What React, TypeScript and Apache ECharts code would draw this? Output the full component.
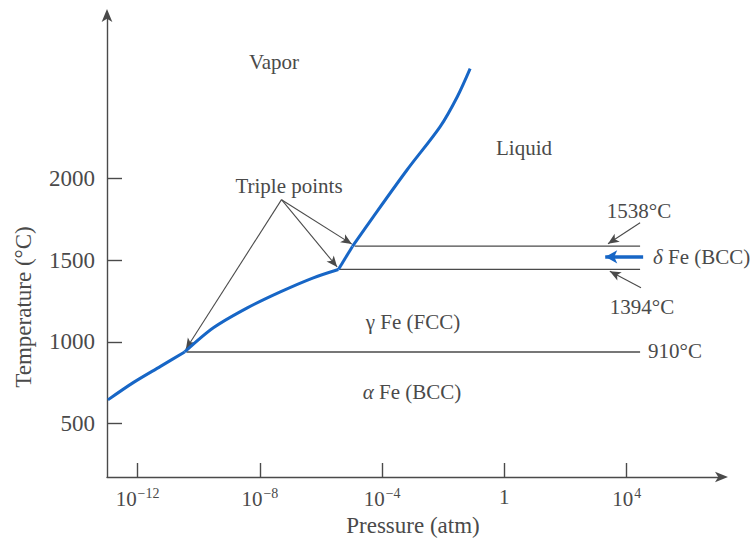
import React, { useEffect, useRef } from 'react';
import * as echarts from 'echarts';

// x = log10(pressure in atm), y = temperature in °C
const pressureTickExponents = [-12, -8, -4, 0, 4];
const temperatureTicks = [500, 1000, 1500, 2000];

const vaporAlphaLogP = [-12.97, -12.13, -11.25, -10.46];
const vaporAlphaT = [645, 752, 850, 938];
const vaporGammaLogP = [-10.46, -9.52, -8.41, -7.33, -6.25, -5.43];
const vaporGammaT = [938, 1086, 1208, 1306, 1392, 1443];
const vaporDeltaLogP = [-5.43, -4.97];
const vaporDeltaT = [1443, 1584];
const vaporLiquidLogP = [-4.97, -4.29, -3.18, -2.1, -1.54, -1.12];
const vaporLiquidT = [1584, 1765, 2053, 2317, 2500, 2672];

const transitionLabels = ['910°C', '1394°C', '1538°C'];
const transitionT = [938, 1443, 1586];
const transitionStartLogP = [-10.4, -5.4, -4.9];
const transitionEndLogP = [4.44, 4.44, 4.44];

const triplePointerFrom = [-7.29, 1870];
const triplePointerTo = [
  [-10.42, 955],
  [-5.47, 1458],
  [-4.99, 1598],
];
const meltPointerFrom = [4.44, 1729];
const meltPointerTo = [3.39, 1600];
const gammaDeltaPointerFrom = [4.47, 1331];
const gammaDeltaPointerTo = [3.45, 1432];
const deltaPointerFrom = [4.54, 1520];
const deltaPointerTo = [3.3, 1520];

const FONT = '"Liberation Serif", "DejaVu Serif", serif';
const TEXT = '#4a4a4a';
const LINE = '#4a4a4a';
const BLUE = '#1766c6';

const zip = (xs: number[], ys: number[]) => xs.map((x, i) => [x, ys[i]]);

export default function App() {
  const ref = useRef<HTMLDivElement>(null);
  useEffect(() => {
    if (!ref.current) return;
    const chart = echarts.init(ref.current, undefined, { renderer: 'svg' });

    const curve = (name: string, xs: number[], ys: number[]) => ({
      name,
      type: 'line',
      data: zip(xs, ys),
      smooth: 0.3,
      showSymbol: false,
      silent: true,
      lineStyle: { color: BLUE, width: 3 },
      z: 5,
    });

    const transitionSeries = transitionLabels.map((lab, i) => ({
      name: lab,
      type: 'line',
      data: [
        [transitionStartLogP[i], transitionT[i]],
        [transitionEndLogP[i], transitionT[i]],
      ],
      showSymbol: false,
      silent: true,
      lineStyle: { color: LINE, width: 1.3 },
      z: 3,
    }));

    const arrow = (from: number[], to: number[]) => [{ coord: from }, { coord: to }];

    const annotationSeries = {
      name: 'annotations',
      type: 'line',
      data: [],
      silent: true,
      markLine: {
        silent: true,
        animation: false,
        symbol: ['none', 'arrow'],
        symbolSize: [7, 11],
        label: { show: false },
        emphasis: { disabled: true },
        lineStyle: { color: LINE, width: 1.1, type: 'solid' },
        data: [
          ...triplePointerTo.map((t) => arrow(triplePointerFrom, t)),
          arrow(meltPointerFrom, meltPointerTo),
          arrow(gammaDeltaPointerFrom, gammaDeltaPointerTo),
          [
            { coord: deltaPointerFrom, lineStyle: { color: BLUE, width: 3.5, type: 'solid' }, symbolSize: [10, 12] },
            { coord: deltaPointerTo, symbolSize: [10, 12] },
          ],
        ],
      },
    };

    const txt = (text: string, x: number, y: number, align = 'center', size = 21, rich?: any, rotation = 0) => ({
      type: 'text',
      x,
      y,
      rotation,
      silent: true,
      style: {
        text,
        x: 0,
        y: 0,
        align,
        verticalAlign: 'middle',
        fontFamily: 'Liberation Serif',
        fontSize: size,
        fill: TEXT,
        rich,
      },
    });
    const greekRich = {
      i: { fontFamily: 'Liberation Serif', fontSize: 21, fontStyle: 'italic', fill: TEXT },
      n: { fontFamily: 'Liberation Serif', fontSize: 21, fill: TEXT },
    };

    chart.setOption({
      animation: false,
      grid: { left: 107, right: 33, top: 15, bottom: 63 },
      xAxis: {
        type: 'value',
        min: -13,
        max: 7.12,
        splitLine: { show: false },
        axisLine: {
          show: true,
          onZero: false,
          symbol: ['none', 'arrow'],
          symbolSize: [8, 13],
          symbolOffset: [0, 6],
          lineStyle: { color: LINE, width: 1.4 },
        },
        axisTick: {
          show: true,
          inside: true,
          length: 14,
          customValues: pressureTickExponents,
          lineStyle: { color: LINE, width: 1.4 },
        },
        axisLabel: {
          customValues: pressureTickExponents,
          margin: 9,
          formatter: (v: number) =>
            v === 0 ? '{b|1}' : `{b|10}{s|${v < 0 ? '−' : ''}${Math.abs(v)}}`,
          rich: {
            b: { fontFamily: FONT, fontSize: 21, color: TEXT },
            s: { fontFamily: FONT, fontSize: 14, color: TEXT, padding: [0, 0, 12, 1] },
          },
        },
      },
      yAxis: {
        type: 'value',
        min: 173,
        max: 3000,
        splitLine: { show: false },
        axisLine: {
          show: true,
          onZero: false,
          symbol: ['none', 'arrow'],
          symbolSize: [8, 13],
          symbolOffset: [0, 6],
          lineStyle: { color: LINE, width: 1.4 },
        },
        axisTick: {
          show: true,
          inside: true,
          length: 15,
          customValues: temperatureTicks,
          lineStyle: { color: LINE, width: 1.4 },
        },
        axisLabel: {
          customValues: temperatureTicks,
          margin: 12,
          fontFamily: FONT,
          fontSize: 23,
          color: TEXT,
          formatter: (v: number) => String(v),
        },
      },
      series: [
        curve('vapor-alpha', vaporAlphaLogP, vaporAlphaT),
        curve('vapor-gamma', vaporGammaLogP, vaporGammaT),
        curve('vapor-delta', vaporDeltaLogP, vaporDeltaT),
        curve('vapor-liquid', vaporLiquidLogP, vaporLiquidT),
        ...transitionSeries,
        annotationSeries,
      ],
      graphic: [
        txt('Vapor', 274, 62),
        txt('Liquid', 524, 148),
        txt('Triple points', 289, 186),
        txt('1538°C', 639, 211),
        txt('{i|δ}{n| Fe (BCC)}', 653, 257, 'left', 21, greekRich),
        txt('1394°C', 642, 307),
        txt('γ Fe (FCC)', 413, 322),
        txt('910°C', 648, 351, 'left'),
        txt('{i|α}{n| Fe (BCC)}', 412, 392, 'center', 21, greekRich),
        txt('Pressure (atm)', 413, 525, 'center', 23),
        txt('Temperature (°C)', 23, 307, 'center', 23, undefined, Math.PI / 2),
      ],
    });
    return () => chart.dispose();
  }, []);
  return <div ref={ref} style={{ position: 'absolute', left: 0, top: 0, width: 755, height: 540 }} />;
}
